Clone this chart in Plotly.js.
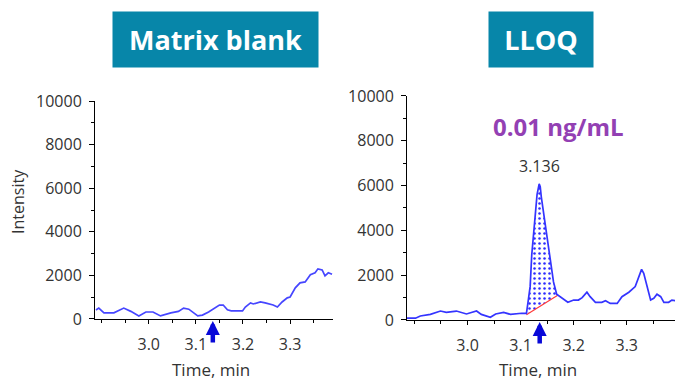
<!DOCTYPE html>
<html>
<head>
<meta charset="utf-8">
<script src="https://cdn.plot.ly/plotly-3.0.1.min.js"></script>
<style>html,body{margin:0;padding:0;background:#fff}#chart{width:690px;height:386px}</style>
</head>
<body>
<div id="chart"></div>
<script>
// ---- Data ----
var panelTitles = ["Matrix blank", "LLOQ"];
var concentrationLabel = "0.01 ng/mL";
var peakLabel = "3.136";
var retentionTime = 3.136;

var blankTime = [2.888, 2.894, 2.905, 2.926, 2.947, 2.962, 2.979, 2.994, 3.009, 3.025, 3.047, 3.063, 3.074, 3.085, 3.104, 3.114, 3.127, 3.142, 3.150, 3.158, 3.167, 3.175, 3.199, 3.205, 3.216, 3.222, 3.237, 3.247, 3.258, 3.264, 3.273, 3.283, 3.294, 3.300, 3.311, 3.321, 3.332, 3.343, 3.353, 3.359, 3.368, 3.374, 3.381, 3.389];
var blankIntensity = [415, 500, 280, 280, 500, 350, 140, 320, 320, 140, 280, 350, 500, 450, 140, 180, 320, 550, 640, 640, 420, 370, 370, 550, 740, 690, 780, 740, 690, 640, 550, 780, 970, 1010, 1430, 1660, 1700, 2030, 2120, 2300, 2250, 1980, 2120, 2050];

var lloqTime = [2.883, 2.902, 2.911, 2.930, 2.949, 2.960, 2.979, 2.998, 3.017, 3.026, 3.043, 3.053, 3.068, 3.081, 3.102, 3.111, 3.114, 3.118, 3.121, 3.125, 3.128, 3.131, 3.135, 3.137, 3.139, 3.143, 3.147, 3.153, 3.158, 3.162, 3.168, 3.172, 3.181, 3.189, 3.200, 3.209, 3.216, 3.225, 3.231, 3.241, 3.253, 3.260, 3.269, 3.282, 3.291, 3.304, 3.316, 3.323, 3.328, 3.332, 3.338, 3.345, 3.351, 3.357, 3.364, 3.370, 3.379, 3.385, 3.392];
var lloqIntensity = [80, 80, 180, 250, 400, 340, 400, 270, 400, 250, 120, 270, 340, 250, 300, 300, 800, 1500, 2900, 3900, 4900, 5600, 6080, 5950, 5500, 4800, 4200, 3100, 2300, 1700, 1150, 1085, 940, 790, 890, 890, 1000, 1240, 1040, 790, 790, 860, 740, 740, 1040, 1240, 1490, 1930, 2260, 2080, 1490, 890, 970, 1150, 1040, 790, 790, 890, 860];

var baselineTime = [3.111, 3.170];
var baselineIntensity = [230, 1100];

var xTickVals = [3.0, 3.1, 3.2, 3.3];
var xTickText = ["3.0", "3.1", "3.2", "3.3"];
var yTickVals = [0, 2000, 4000, 6000, 8000, 10000];
var yTickText = ["0", "2000", "4000", "6000", "8000", "10000"];

// peak segment (subset of LLOQ data between baseline ends)
var segT = [], segI = [];
for (var i = 0; i < lloqTime.length; i++) {
  if (lloqTime[i] >= baselineTime[0] && lloqTime[i] <= baselineTime[1]) { segT.push(lloqTime[i]); segI.push(lloqIntensity[i]); }
}

var lineBlue = '#3434ff';
var traces = [
  {x: blankTime, y: blankIntensity, xaxis: 'x', yaxis: 'y', type: 'scatter', mode: 'lines',
   line: {color: '#4646ff', width: 1.7}, hoverinfo: 'skip'},
  {x: baselineTime, y: baselineIntensity, xaxis: 'x2', yaxis: 'y2', type: 'scatter', mode: 'lines',
   line: {color: '#ff3b3b', width: 1.2}, hoverinfo: 'skip'},
  {x: segT, y: segI, xaxis: 'x2', yaxis: 'y2', type: 'scatter', mode: 'lines', fill: 'tonexty',
   fillcolor: 'rgba(255,255,255,0)', line: {color: 'rgba(0,0,0,0)', width: 0},
   fillpattern: {shape: '.', fgcolor: '#2a2aff', bgcolor: 'rgba(255,255,255,0)', size: 5, solidity: 0.2},
   hoverinfo: 'skip'},
  {x: lloqTime, y: lloqIntensity, xaxis: 'x2', yaxis: 'y2', type: 'scatter', mode: 'lines',
   line: {color: lineBlue, width: 1.7}, hoverinfo: 'skip'}
];

var fontFam = '"Open Sans", "Noto Sans", sans-serif';
function xa(domain, anchor) {
  return {domain: domain, anchor: anchor, range: [2.886, 3.391], showgrid: false, zeroline: false,
    showline: true, linecolor: '#000', linewidth: 1, ticks: 'outside', ticklen: 4, tickcolor: '#000',
    tickmode: 'array', tickvals: xTickVals, ticktext: xTickText, ticklabelstandoff: 7,
    tickfont: {family: fontFam, size: 16, color: '#333'},
    minor: {tickmode: 'linear', tick0: 2.9, dtick: 0.05, ticks: 'outside', ticklen: 3, tickcolor: '#000', showgrid: false},
    fixedrange: true};
}
function ya(domain, anchor) {
  return {domain: domain, anchor: anchor, range: [0, 10000], showgrid: false, zeroline: false,
    showline: true, linecolor: '#000', linewidth: 1, ticks: 'outside', ticklen: 5, tickcolor: '#000',
    tickmode: 'array', tickvals: yTickVals, ticktext: yTickText, ticklabelstandoff: 4,
    tickfont: {family: fontFam, size: 16, color: '#333'},
    minor: {tickmode: 'linear', tick0: 0, dtick: 1000, ticks: 'outside', ticklen: 3, tickcolor: '#000', showgrid: false},
    fixedrange: true};
}

function arrowMark(xr, yr) {
  return {text: '', xref: xr, yref: yr, x: retentionTime, y: 0, yshift: -2, ax: 0, ay: 23, showarrow: true,
     arrowhead: 2, arrowsize: 0.62, arrowwidth: 4.5, arrowcolor: '#0808d8', standoff: 0};
}

var boxColor = '#0786a9';
var layout = {
  width: 690, height: 386,
  margin: {l: 0, r: 0, t: 0, b: 0},
  paper_bgcolor: '#fff', plot_bgcolor: '#fff',
  showlegend: false,
  xaxis: xa([0.1377, 0.4826], 'y'),
  yaxis: ya([0.1736, 0.7383], 'x'),
  xaxis2: xa([0.5899, 0.9783], 'y2'),
  yaxis2: ya([0.171, 0.7513], 'x2'),
  annotations: [
    {text: '<b>' + panelTitles[0] + '</b>', xref: 'paper', yref: 'paper', x: 0.3123, y: 0.8977,
     xanchor: 'center', yanchor: 'middle', showarrow: false, bgcolor: boxColor, width: 205, height: 55,
     borderpad: 0, font: {family: fontFam, size: 27, color: '#fff'}},
    {text: '<b>' + panelTitles[1] + '</b>', xref: 'paper', yref: 'paper', x: 0.7841, y: 0.8977,
     xanchor: 'center', yanchor: 'middle', showarrow: false, bgcolor: boxColor, width: 104, height: 55,
     borderpad: 0, font: {family: fontFam, size: 27, color: '#fff'}},
    {text: '<b>' + concentrationLabel + '</b>', xref: 'paper', yref: 'paper', x: 558 / 690, y: (386 - 127) / 386,
     xanchor: 'center', yanchor: 'middle', showarrow: false, font: {family: fontFam, size: 24, color: '#9340b3'}},
    {text: peakLabel, xref: 'x2', yref: 'y2', x: retentionTime, y: Math.max.apply(null, lloqIntensity),
     xanchor: 'center', yanchor: 'bottom', yshift: 5, showarrow: false, font: {family: fontFam, size: 16, color: '#333'}},
    {text: 'Intensity', xref: 'paper', yref: 'paper', x: 18 / 690, y: (386 - 202) / 386, textangle: -90,
     xanchor: 'center', yanchor: 'middle', showarrow: false, font: {family: fontFam, size: 16, color: '#333'}},
    {text: 'Time, min', xref: 'paper', yref: 'paper', x: 211 / 690, y: (386 - 369) / 386,
     xanchor: 'center', yanchor: 'middle', showarrow: false, font: {family: fontFam, size: 17, color: '#333'}},
    {text: 'Time, min', xref: 'paper', yref: 'paper', x: 538 / 690, y: (386 - 369) / 386,
     xanchor: 'center', yanchor: 'middle', showarrow: false, font: {family: fontFam, size: 17, color: '#333'}},
    arrowMark('x', 'y'),
    arrowMark('x2', 'y2')
  ]
};

Plotly.newPlot('chart', traces, layout, {displayModeBar: false, staticPlot: true});
</script>
</body>
</html>
